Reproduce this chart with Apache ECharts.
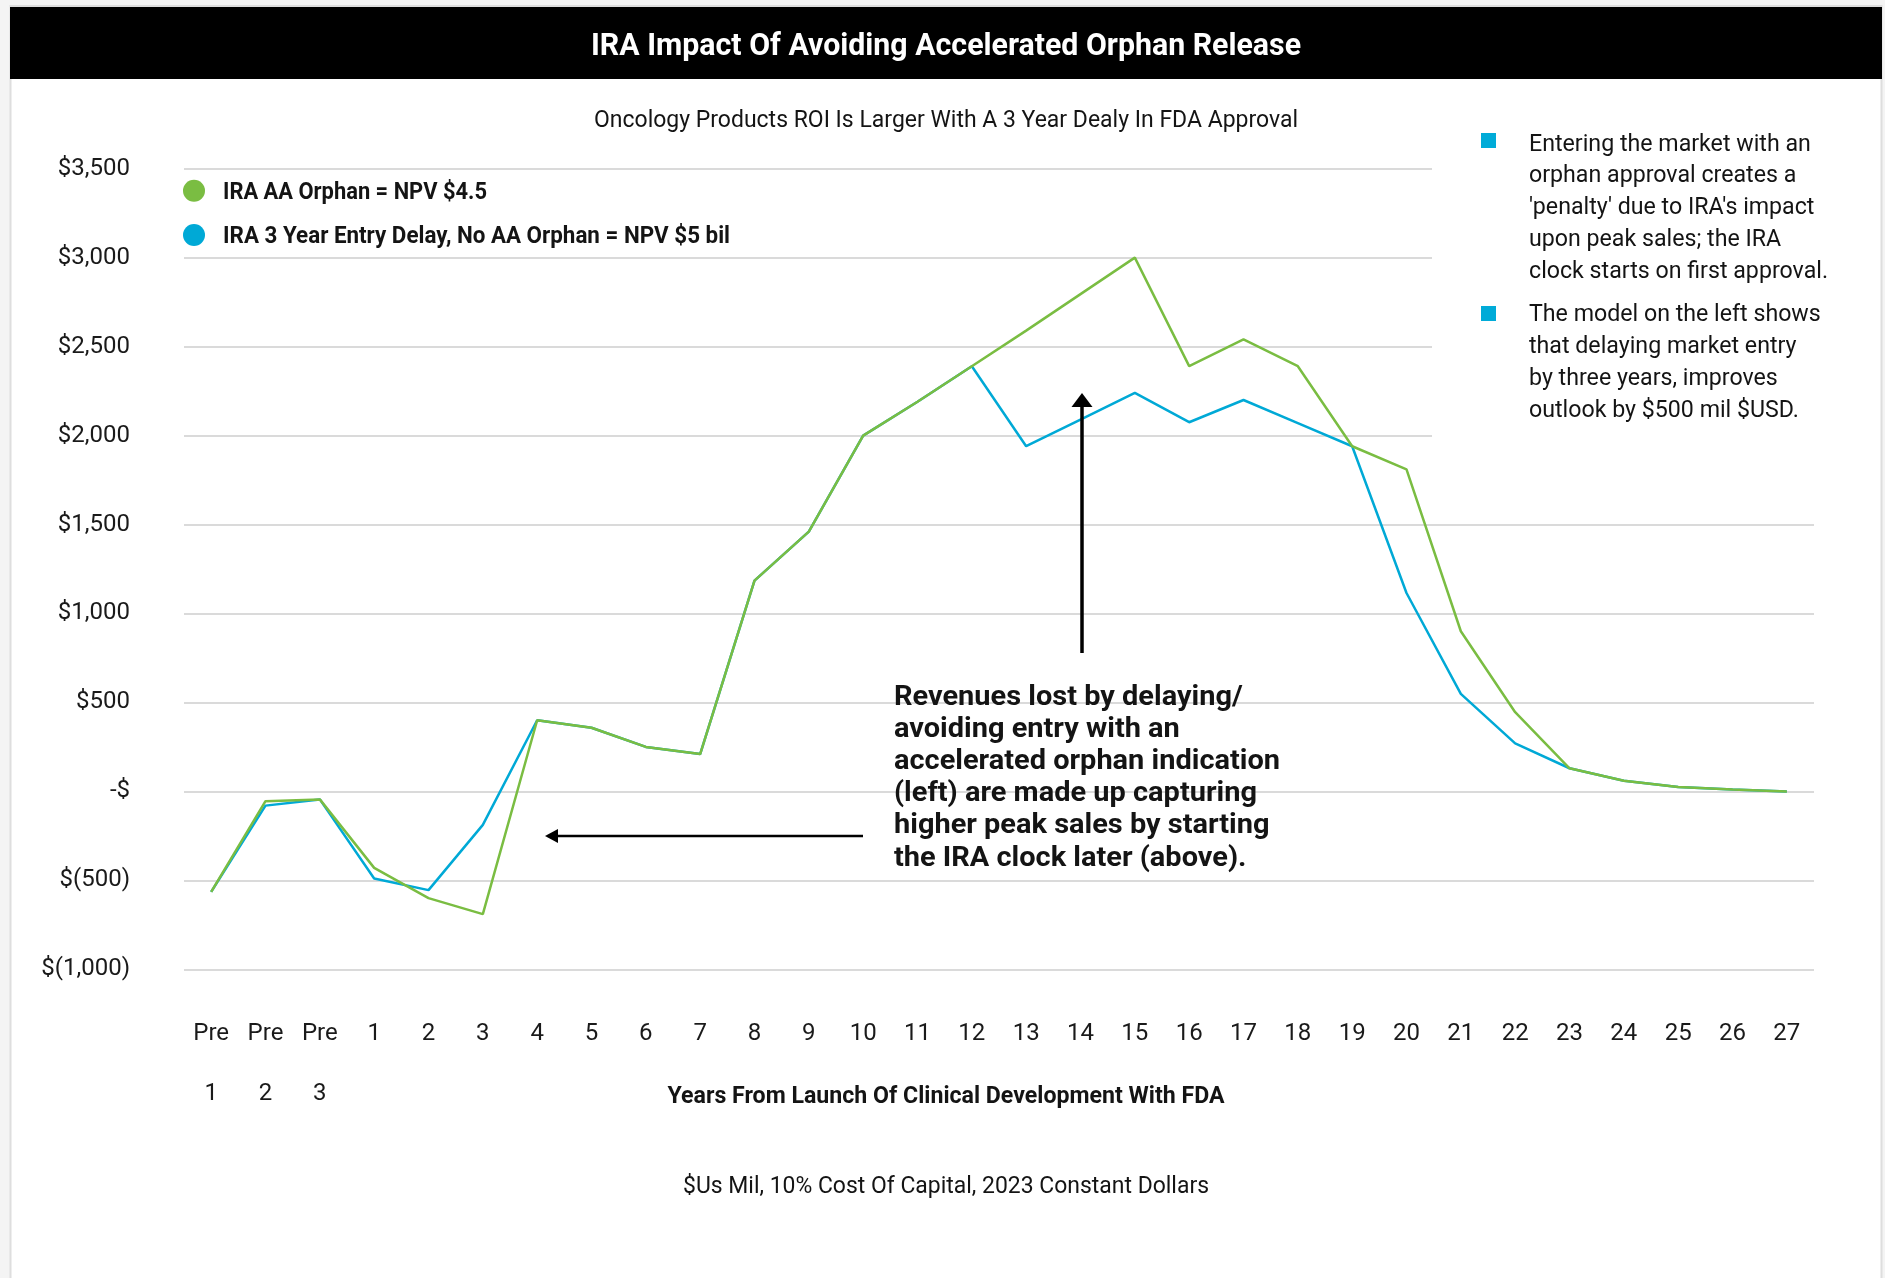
<!DOCTYPE html>
<html>
<head>
<meta charset="utf-8">
<title>IRA Impact Of Avoiding Accelerated Orphan Release</title>
<script src="https://cdn.jsdelivr.net/npm/echarts@6/dist/echarts.min.js"></script>
<style>
  html, body { margin: 0; padding: 0; background: #f4f4f4; }
  #chart { width: 1885px; height: 1278px; }
</style>
</head>
<body>
<div id="chart"></div>
<script>
// ---- data ($US mil) ----
const categories = ['Pre 1', 'Pre 2', 'Pre 3', '1', '2', '3', '4', '5', '6', '7', '8', '9', '10',
  '11', '12', '13', '14', '15', '16', '17', '18', '19', '20', '21', '22', '23', '24', '25', '26', '27'];

// IRA AA Orphan = NPV $4.5
const aaOrphan = [-565, -55, -45, -430, -600, -690, 400, 358, 250, 210, 1185, 1460, 2000,
  2190, 2390, 2590, 2795, 3000, 2390, 2540, 2390, 1940, 1810, 900, 445, 130, 60, 25, 10, 0];

// IRA 3 Year Entry Delay, No AA Orphan = NPV $5 bil
const delayedEntry = [-565, -80, -45, -490, -555, -188, 400, 358, 250, 210, 1185, 1460, 2000,
  2190, 2390, 1940, 2090, 2240, 2075, 2200, 2070, 1940, 1115, 548, 270, 130, 60, 25, 10, 0];

const yMin = -1000, yMax = 3500, yStep = 500;
const yTickLabels = ['$(1,000)', '$(500)', '-$', '$500', '$1,000', '$1,500',
  '$2,000', '$2,500', '$3,000', '$3,500'];

const seriesNames = ['IRA AA Orphan = NPV $4.5', 'IRA 3 Year Entry Delay, No AA Orphan = NPV $5 bil'];

const titleText = 'IRA Impact Of Avoiding Accelerated Orphan Release';
const subtitleText = 'Oncology Products ROI Is Larger With A 3 Year Dealy In FDA Approval';
const xAxisTitle = 'Years From Launch Of Clinical Development With FDA';
const footnoteText = '$Us Mil, 10% Cost Of Capital, 2023 Constant Dollars';
const noteLines = [
  ['Entering the market with an', 'orphan approval creates a', "'penalty' due to IRA's impact",
   'upon peak sales; the IRA', 'clock starts on first approval.'],
  ['The model on the left shows', 'that delaying market entry', 'by three years, improves',
   'outlook by $500 mil $USD.']
];
const calloutLines = ['Revenues lost by delaying/', 'avoiding entry with an',
  'accelerated orphan indication', '(left) are made up capturing',
  'higher peak sales by starting', 'the IRA clock later (above).'];

// ---- styling ----
const GREEN = '#7abd42';
const BLUE = '#00a9d6';
const INK = '#141414';
const GRID_LINE = '#dadada';
const FONT = 'Roboto, "Noto Sans", sans-serif';
// gridlines at or above this value stop short of the side notes
const shortLineFrom = 2000;

// horizontal squeeze so a line of text spans a given width
const measureCtx = document.createElement('canvas').getContext('2d');
function squeeze(lines, size, weight, width) {
  measureCtx.font = weight + ' ' + size + 'px Roboto';
  const w = Math.max.apply(null, lines.map(l => measureCtx.measureText(l).width));
  return w > 0 ? width / w : 1;
}

function textEl(opt) {
  const lines = Array.isArray(opt.text) ? opt.text : [opt.text];
  const weight = opt.weight || 'normal';
  const multi = lines.length > 1;
  return {
    type: 'text',
    x: opt.x,
    y: opt.y,
    z: 20,
    silent: true,
    scaleX: opt.scaleX || squeeze(lines, opt.size, weight, opt.width),
    style: {
      text: lines.join('\n'),
      fontSize: opt.size,
      fontWeight: weight,
      fontFamily: FONT,
      fill: opt.fill || INK,
      textAlign: opt.align || 'left',
      textVerticalAlign: multi ? 'top' : 'middle',
      lineHeight: opt.lineHeight || opt.size * 1.2
    }
  };
}

const yTickValues = yTickLabels.map((_, i) => yMin + i * yStep);
const fullLineColors = yTickValues.map(v => (v < shortLineFrom ? GRID_LINE : 'rgba(0,0,0,0)'));
const shortLineColors = yTickValues.map(v => (v >= shortLineFrom ? GRID_LINE : 'rgba(0,0,0,0)'));

const noteScale = squeeze(noteLines[0], 24, 'normal', 299);

const graphics = [
  // white panel and black header band
  { type: 'rect', z: -10, silent: true,
    shape: { x: 10.5, y: 6, width: 1871, height: 1290 },
    style: { fill: '#ffffff', stroke: '#dedede', lineWidth: 2 } },
  { type: 'rect', z: -9, silent: true,
    shape: { x: 10, y: 7, width: 1872, height: 72 },
    style: { fill: '#000000' } },
  textEl({ text: titleText, x: 946, y: 46.5, size: 32, weight: 'bold', width: 710, fill: '#ffffff', align: 'center' }),
  textEl({ text: subtitleText, x: 946, y: 121.2, size: 24, width: 704, align: 'center' }),

  // legend
  { type: 'circle', z: 20, silent: true, shape: { cx: 194, cy: 190.7, r: 11 }, style: { fill: GREEN } },
  { type: 'circle', z: 20, silent: true, shape: { cx: 194, cy: 235, r: 11 }, style: { fill: BLUE } },
  textEl({ text: seriesNames[0], x: 223, y: 192.7, size: 24, weight: 'bold', width: 264 }),
  textEl({ text: seriesNames[1], x: 223, y: 237.2, size: 24, weight: 'bold', width: 507 }),

  // side notes
  { type: 'rect', z: 20, silent: true, shape: { x: 1481, y: 133, width: 15, height: 15 }, style: { fill: '#00abd8' } },
  { type: 'rect', z: 20, silent: true, shape: { x: 1481, y: 306, width: 15, height: 15 }, style: { fill: '#00abd8' } },
  textEl({ text: noteLines[0], x: 1529, y: 128.7, size: 24, scaleX: noteScale, lineHeight: 31.8 }),
  textEl({ text: noteLines[1], x: 1529, y: 298.7, size: 24, scaleX: noteScale, lineHeight: 32 }),

  // callout text and arrows
  textEl({ text: calloutLines, x: 894, y: 681.4, size: 28, weight: 'bold', width: 386, lineHeight: 32.2 }),
  { type: 'line', z: 20, silent: true, shape: { x1: 1082, y1: 653, x2: 1082, y2: 404 },
    style: { stroke: '#000', lineWidth: 3.5 } },
  { type: 'polygon', z: 20, silent: true, shape: { points: [[1082, 393], [1071.5, 407], [1092.5, 407]] },
    style: { fill: '#000' } },
  { type: 'line', z: 20, silent: true, shape: { x1: 863, y1: 836, x2: 556, y2: 836 },
    style: { stroke: '#000', lineWidth: 2.5 } },
  { type: 'polygon', z: 20, silent: true, shape: { points: [[545, 836], [558, 829], [558, 843]] },
    style: { fill: '#000' } },

  // axis title and footnote
  textEl({ text: xAxisTitle, x: 946, y: 1097.2, size: 24, weight: 'bold', width: 557, align: 'center' }),
  textEl({ text: footnoteText, x: 946, y: 1187.2, size: 24, width: 526, align: 'center' })
];

const chart = echarts.init(document.getElementById('chart'), null, { renderer: 'canvas' });

chart.setOption({
  backgroundColor: '#f4f4f4',
  animation: false,
  textStyle: { fontFamily: FONT },
  grid: [
    { left: 184, right: 71, top: 168.7, bottom: 308.7 },
    { left: 184, right: 453, top: 168.7, bottom: 308.7 }
  ],
  xAxis: [
    {
      type: 'category',
      gridIndex: 0,
      data: categories,
      boundaryGap: true,
      axisLine: { show: false },
      axisTick: { show: false },
      splitLine: { show: false },
      axisLabel: {
        interval: 0,
        margin: 35,
        fontSize: 24,
        lineHeight: 59.5,
        color: '#1a1a1a',
        formatter: v => v.replace(' ', '\n')
      }
    },
    { type: 'category', gridIndex: 1, data: categories, show: false }
  ],
  yAxis: [
    {
      type: 'value',
      gridIndex: 0,
      min: yMin,
      max: yMax,
      interval: yStep,
      axisLine: { show: false },
      axisTick: { show: false },
      axisLabel: {
        margin: 54,
        fontSize: 24,
        color: '#1a1a1a',
        padding: [6, 0, 0, 0],
        formatter: v => yTickLabels[Math.round((v - yMin) / yStep)]
      },
      splitLine: { show: true, lineStyle: { color: fullLineColors, width: 2 } }
    },
    {
      type: 'value',
      gridIndex: 1,
      min: yMin,
      max: yMax,
      interval: yStep,
      axisLine: { show: false },
      axisTick: { show: false },
      axisLabel: { show: false },
      splitLine: { show: true, lineStyle: { color: shortLineColors, width: 2 } }
    }
  ],
  series: [
    {
      name: seriesNames[1],
      type: 'line',
      xAxisIndex: 0,
      yAxisIndex: 0,
      data: delayedEntry,
      symbol: 'none',
      z: 3,
      lineStyle: { color: BLUE, width: 2.5 },
      itemStyle: { color: BLUE }
    },
    {
      name: seriesNames[0],
      type: 'line',
      xAxisIndex: 0,
      yAxisIndex: 0,
      data: aaOrphan,
      symbol: 'none',
      z: 4,
      lineStyle: { color: GREEN, width: 2.5 },
      itemStyle: { color: GREEN }
    }
  ],
  graphic: { elements: graphics }
});
</script>
</body>
</html>
